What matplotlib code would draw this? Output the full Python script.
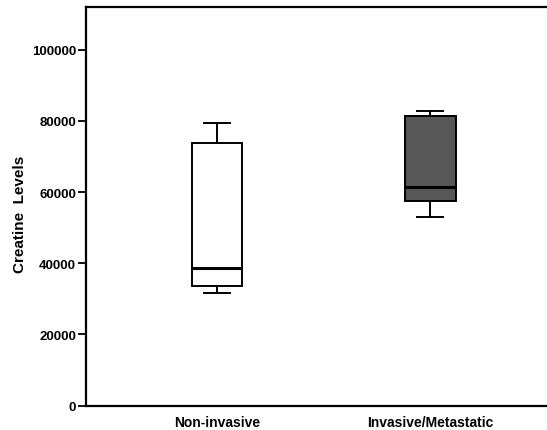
import matplotlib
matplotlib.use("Agg")
import matplotlib.pyplot as plt

# Box statistics (Creatine levels)
groups = ["Non-invasive", "Invasive/Metastatic"]
whisker_low = [31600, 53000]
q1 = [33700, 57400]
median = [38600, 61400]
q3 = [73700, 81300]
whisker_high = [79500, 82900]
face_colors = ["white", "#575757"]
y_ticks = [0, 20000, 40000, 60000, 80000, 100000]

plt.rcParams["font.family"] = ["Liberation Sans", "DejaVu Sans"]
plt.rcParams["font.weight"] = "bold"

fig = plt.figure(figsize=(5.47, 4.31), dpi=100)
ax = fig.add_axes([0.157, 0.0568, 0.8693, 0.9246])

stats = []
for i, name in enumerate(groups):
    stats.append({
        "label": name,
        "whislo": whisker_low[i],
        "q1": q1[i],
        "med": median[i],
        "q3": q3[i],
        "whishi": whisker_high[i],
        "fliers": [],
    })

bp = ax.bxp(
    stats,
    positions=[1, 2],
    widths=0.237,
    capwidths=0.122,
    patch_artist=True,
    showfliers=False,
    boxprops=dict(edgecolor="black", linewidth=1.4),
    whiskerprops=dict(color="black", linewidth=1.4),
    capprops=dict(color="black", linewidth=1.4),
    medianprops=dict(color="black", linewidth=2.2),
)
for patch, fc in zip(bp["boxes"], face_colors):
    patch.set_facecolor(fc)

ax.set_xlim(0.386, 2.614)
ax.set_ylim(0, 112000)
ax.set_yticks(y_ticks)
ax.set_yticklabels([str(v) for v in y_ticks], fontsize=9.5, fontweight="bold")
ax.set_xticks([1, 2])
ax.set_xticklabels(groups, fontsize=10, fontweight="bold")
ax.tick_params(axis="x", length=0, pad=7)
ax.tick_params(axis="y", length=6, width=1.3, pad=1)
for side in ["left", "top", "bottom", "right"]:
    ax.spines[side].set_linewidth(1.6)

ax.set_ylabel("Creatine  Levels", fontsize=11, fontweight="bold")
ax.yaxis.set_label_coords(-0.124, 0.482)

fig.savefig("out.png", dpi=100)
plt.close(fig)
